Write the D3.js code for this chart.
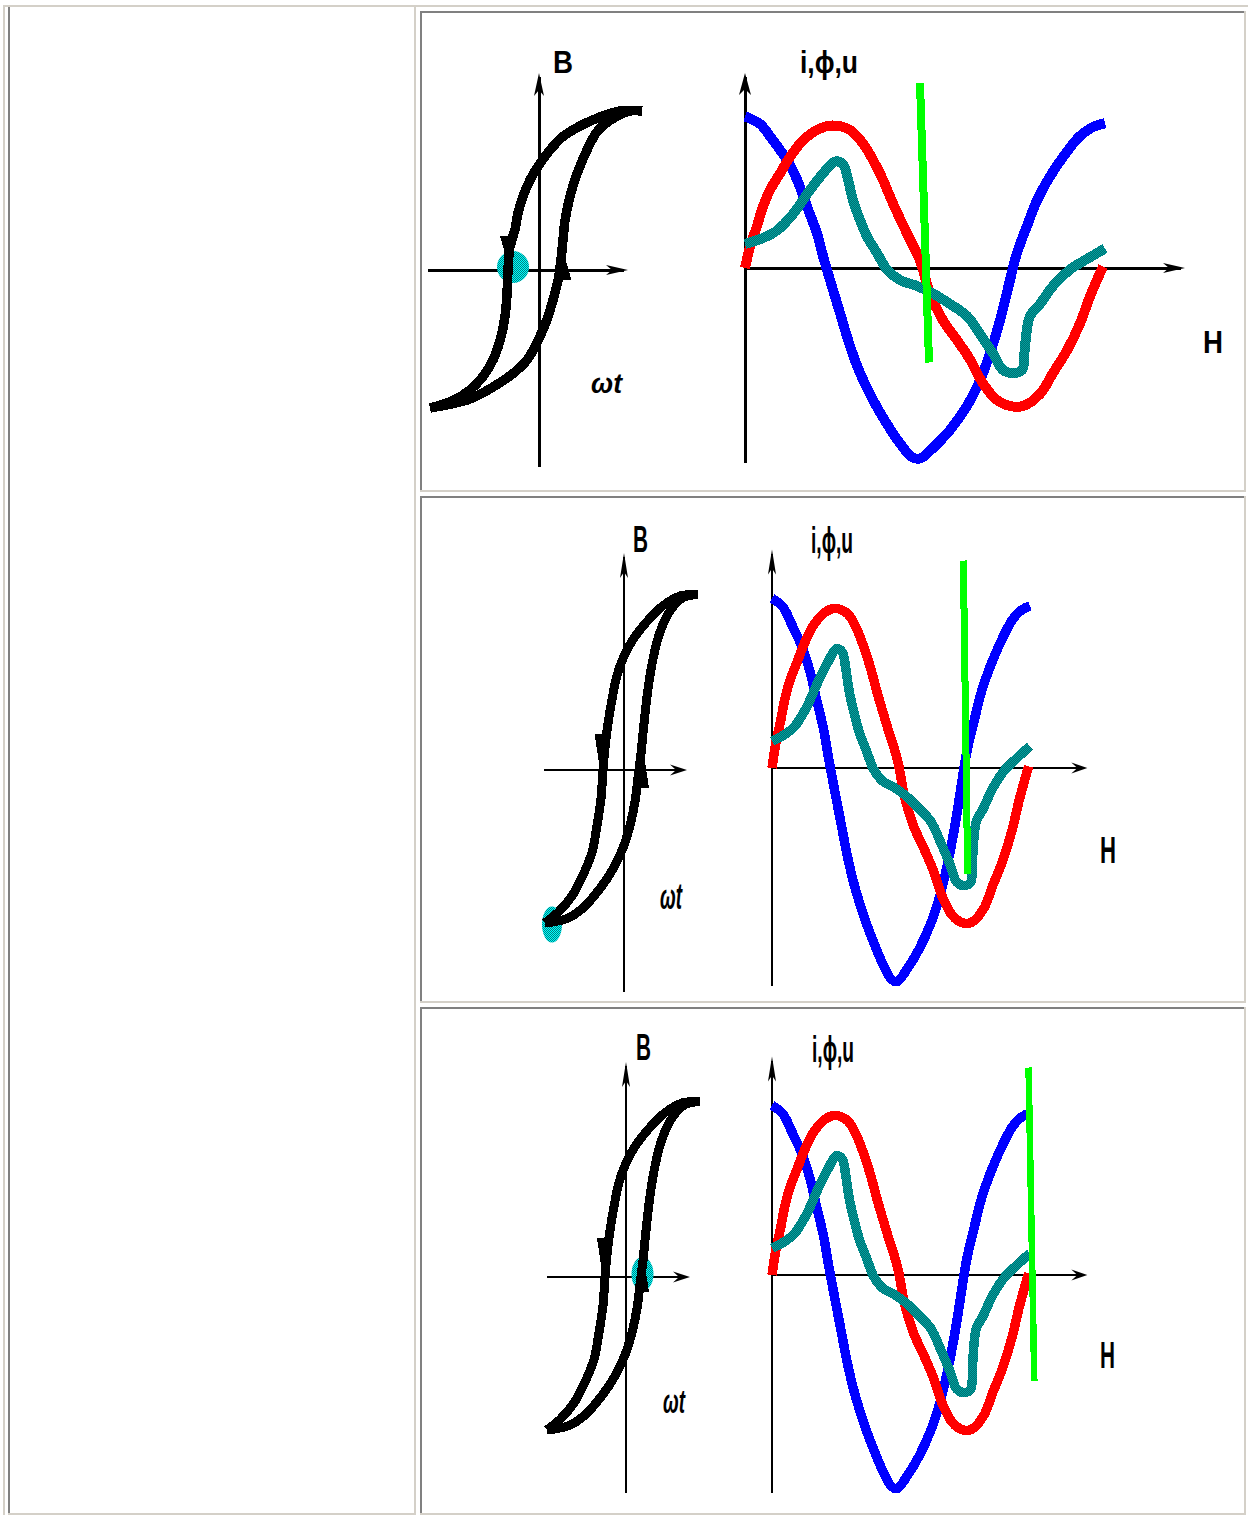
<!DOCTYPE html>
<html>
<head>
<meta charset="utf-8">
<title>Iron core magnetization: B–H loop and i, ϕ, u over one period</title>
<script src="https://cdn.jsdelivr.net/npm/d3@7/dist/d3.min.js"></script>
<style>
  html, body { margin: 0; padding: 0; background: #ffffff; }
  svg { display: block; }
  text { font-family: "Liberation Sans", Arial, "DejaVu Sans", sans-serif; fill: #000; }
</style>
</head>
<body>
<svg id="chart" width="1248" height="1515"></svg>
<script>
// ---------- waveforms over one period (phase ωt in degrees, amplitude in p.u.) ----------
const voltageT = [0, 15, 28, 42, 52, 62, 72, 78, 85, 95, 105, 115, 128, 142, 155, 167, 175, 188, 205, 222, 235, 245, 255, 265, 272, 282, 292, 305, 318, 335, 348, 360];
const voltageV = [1.01, 0.96, 0.85, 0.72, 0.59, 0.41, 0.23, 0.08, -0.08, -0.30, -0.52, -0.70, -0.88, -1.04, -1.17, -1.26, -1.27, -1.20, -1.08, -0.92, -0.75, -0.57, -0.35, -0.08, 0.10, 0.28, 0.45, 0.61, 0.74, 0.88, 0.94, 0.965];

const fluxT = [0, 5, 12, 18, 25, 35, 45, 58, 75, 88, 105, 118, 135, 148, 162, 175, 185, 198, 212, 225, 238, 252, 265, 278, 295, 308, 322, 335, 345, 358];
const fluxV = [0, 0.14, 0.28, 0.41, 0.52, 0.63, 0.74, 0.85, 0.93, 0.95, 0.92, 0.83, 0.63, 0.43, 0.23, 0.05, -0.17, -0.35, -0.48, -0.61, -0.77, -0.88, -0.92, -0.92, -0.84, -0.70, -0.55, -0.37, -0.19, 0.01];

const currentT = [0, 18, 32, 48, 65, 78, 90, 98, 103, 108, 115, 122, 132, 142, 155, 172, 188, 205, 222, 235, 248, 258, 268, 277, 280, 285, 295, 308, 325, 342, 360];
const currentV = [0.16, 0.20, 0.25, 0.36, 0.52, 0.63, 0.71, 0.69, 0.59, 0.45, 0.32, 0.21, 0.10, -0.01, -0.08, -0.12, -0.17, -0.24, -0.32, -0.44, -0.57, -0.68, -0.70, -0.68, -0.52, -0.32, -0.24, -0.12, -0.01, 0.06, 0.13];

// instant shown in each snapshot (slanted cursor: phase at its top and bottom end)
const cursorStart = [175, 267, 358];
const cursorEnd = [184, 273, 366];
const cursorTop = 1.235, cursorBottom = -0.63;

// ---------- hysteresis loops (H, B in p.u.) ----------
// wide loop: descending branch from +Bmax tip, ascending branch from -Bmax tip
const wideDownH = [1.03, 0.81, 0.61, 0.41, 0.24, 0.11, 0.01, -0.09, -0.16, -0.21, -0.24, -0.29, -0.31, -0.32, -0.34, -0.39, -0.46, -0.56, -0.69, -0.86, -1.09];
const wideDownB = [1.06, 1.06, 1.02, 0.96, 0.89, 0.80, 0.71, 0.60, 0.49, 0.38, 0.27, 0.16, 0.00, -0.16, -0.31, -0.47, -0.60, -0.71, -0.80, -0.87, -0.92];
const wideUpH = [-1.09, -0.69, -0.46, -0.26, -0.12, -0.01, 0.08, 0.14, 0.19, 0.22, 0.24, 0.26, 0.31, 0.38, 0.48, 0.59, 0.74, 0.91, 1.03];
const wideUpB = [-0.92, -0.86, -0.78, -0.69, -0.60, -0.47, -0.33, -0.20, -0.07, 0.07, 0.20, 0.33, 0.49, 0.64, 0.80, 0.93, 1.01, 1.06, 1.06];

// narrow loop
const narrowDownH = [0.74, 0.56, 0.38, 0.23, 0.09, 0.00, -0.07, -0.12, -0.16, -0.19, -0.21, -0.23, -0.27, -0.32, -0.41, -0.52, -0.66, -0.79];
const narrowDownB = [1.17, 1.16, 1.09, 0.99, 0.87, 0.76, 0.63, 0.47, 0.31, 0.15, 0.00, -0.19, -0.37, -0.55, -0.70, -0.84, -0.95, -1.02];
const narrowUpH = [-0.79, -0.57, -0.41, -0.24, -0.11, -0.01, 0.06, 0.11, 0.14, 0.17, 0.20, 0.24, 0.29, 0.36, 0.46, 0.59, 0.74];
const narrowUpB = [-1.02, -0.99, -0.92, -0.79, -0.66, -0.52, -0.37, -0.21, -0.05, 0.11, 0.31, 0.54, 0.74, 0.92, 1.06, 1.15, 1.17];

// operating point on the loop at the shown instant
const stateH = [-0.26, -0.72, 0.165];
const stateB = [0.02, -1.03, 0.02];

// axis titles
const loopTitles = ["B", "ωt"];
const waveTitles = ["i,ϕ,u", "H"];

// ---------- layout of the three snapshots ----------
const panels = [
  {
    top: 11, bottom: 492,
    loop: { cx: 539, cy: 270, h: [-1.11, 0.89], b: [-1.313, 1.313], down: [wideDownH, wideDownB], up: [wideUpH, wideUpB],
            stroke: 9.5, axis: 3, arrV: [23, 5], arrH: [22, 5],
            marks: [[-0.30, 0.16, 1], [0.235, 0.0, -1]], markSize: [18, 20], dot: [16, 16] },
    wave: { x: [745, 1105], y0: 268, unit: 150, stroke: 10, axis: 3, arrV: [22, 6], arrH: [22, 5], cursorW: 8 },
    text: { size: 32, wtSize: 28, B: [553, 73, 20], wt: [591, 393, 31], ipu: [800, 73, 58], H: [1203, 353, 20] }
  },
  {
    top: 496, bottom: 1003,
    loop: { cx: 624, cy: 770, h: [-0.80, 0.63], b: [-1.48, 1.447], down: [narrowDownH, narrowDownB], up: [narrowUpH, narrowUpB],
            stroke: 9, axis: 2, arrV: [25, 4], arrH: [17, 5.5],
            marks: [[-0.225, 0.143, 1], [0.18, -0.02, -1]], markSize: [14, 30], dot: [10, 18] },
    wave: { x: [772, 1030], y0: 768, unit: 168, stroke: 9.5, axis: 2, arrV: [25, 4], arrH: [16, 5.5], cursorW: 7 },
    text: { size: 36, wtSize: 36, B: [633, 552, 15], wt: [660, 909, 22], ipu: [811, 553, 42], H: [1100, 863, 16] }
  },
  {
    top: 1007, bottom: 1515,
    loop: { cx: 626, cy: 1277, h: [-0.79, 0.64], b: [-1.44, 1.433], down: [narrowDownH, narrowDownB], up: [narrowUpH, narrowUpB],
            stroke: 9, axis: 2, arrV: [25, 4], arrH: [17, 5.5],
            marks: [[-0.22, 0.157, 1], [0.16, 0.0, -1]], markSize: [14, 30], dot: [11, 17] },
    wave: { x: [772, 1030], y0: 1275, unit: 168, stroke: 9.5, axis: 2, arrV: [25, 4], arrH: [16, 5.5], cursorW: 6.5 },
    text: { size: 36, wtSize: 34, B: [636, 1060, 15], wt: [663, 1413, 22], ipu: [812, 1062, 42], H: [1100, 1368, 15] }
  }
];

const svg = d3.select("#chart");
svg.append("rect").attr("width", 1248).attr("height", 1515).attr("fill", "#ffffff");
const defs = svg.append("defs");

// 2x2 dither patterns
function checker(id, a, b) {
  const p = defs.append("pattern").attr("id", id).attr("width", 2).attr("height", 2)
    .attr("patternUnits", "userSpaceOnUse");
  p.append("rect").attr("width", 2).attr("height", 2).attr("fill", a);
  p.append("rect").attr("width", 1).attr("height", 1).attr("fill", b);
  p.append("rect").attr("x", 1).attr("y", 1).attr("width", 1).attr("height", 1).attr("fill", b);
}
checker("tealDither", "#007070", "#00a0a0");
checker("cyanDither", "#00ffff", "#008080");

// ---------- table frame ----------
const light = "#d4d0c8", dark = "#808080";
const frame = svg.append("g").attr("shape-rendering", "crispEdges");
function bar(x, y, w, h, c) {
  frame.append("rect").attr("x", x).attr("y", y).attr("width", w).attr("height", h).attr("fill", c);
}
bar(3, 5, 1245, 2, light);
bar(3, 5, 2, 1510, light);
bar(8, 7, 2, 1506, dark);
bar(414, 7, 2, 1508, light);
bar(8, 1513, 408, 2, light);
panels.forEach(p => {
  bar(420, p.top, 826, 2, dark);
  bar(420, p.top, 2, p.bottom - p.top, dark);
  bar(1244, p.top, 2, p.bottom - p.top, light);
  bar(420, p.bottom - 2, 826, 2, light);
});

// arrowhead polygon: tip at (x, y), pointing along (dx, dy)
function arrowHead(g, x, y, dx, dy, len, half) {
  const nx = -dy, ny = dx;
  const bx = x - dx * len, by = y - dy * len;
  const mx = x - dx * (len - 6), my = y - dy * (len - 6);
  g.append("path")
    .attr("d", `M${x},${y}L${bx + nx * half},${by + ny * half}L${mx},${my}L${bx - nx * half},${by - ny * half}Z`)
    .attr("fill", "#000");
}

function label(g, txt, pos, size, italic) {
  g.append("text")
    .attr("x", pos[0]).attr("y", pos[1])
    .attr("font-size", size)
    .attr("font-weight", "bold")
    .attr("font-style", italic ? "italic" : "normal")
    .attr("textLength", pos[2])
    .attr("lengthAdjust", "spacingAndGlyphs")
    .text(txt);
}

const smooth = d3.curveCatmullRom.alpha(0.5);

panels.forEach((p, i) => {
  const g = svg.append("g");

  // ---------- hysteresis loop ----------
  const L = p.loop;
  const hx = d3.scaleLinear().domain([-1, 1]).range([L.cx - 100, L.cx + 100]);
  const by = d3.scaleLinear().domain([-1, 1]).range([L.cy + 150, L.cy - 150]);
  const axes = g.append("g").attr("stroke", "#000").attr("stroke-width", L.axis).attr("shape-rendering", "crispEdges");
  axes.append("line").attr("x1", hx(0)).attr("x2", hx(0)).attr("y1", by(L.b[1]) + 4).attr("y2", by(L.b[0]));
  axes.append("line").attr("x1", hx(L.h[0])).attr("x2", hx(L.h[1]) - 4).attr("y1", by(0)).attr("y2", by(0));
  arrowHead(g, hx(0), by(L.b[1]), 0, -1, L.arrV[0], L.arrV[1]);
  arrowHead(g, hx(L.h[1]), by(0), 1, 0, L.arrH[0], L.arrH[1]);

  // operating point
  g.append("ellipse")
    .attr("cx", hx(stateH[i])).attr("cy", by(stateB[i]))
    .attr("rx", L.dot[0]).attr("ry", L.dot[1])
    .attr("fill", "url(#cyanDither)");

  const loopLine = d3.line().x(d => hx(d[0])).y(d => by(d[1])).curve(smooth);
  [L.down, L.up].forEach(br => {
    g.append("path")
      .attr("d", loopLine(d3.zip(br[0], br[1])))
      .attr("fill", "none").attr("stroke", "#000").attr("stroke-width", L.stroke)
      .attr("stroke-linecap", "butt").attr("shape-rendering", "crispEdges");
  });
  // direction marks on the branches
  L.marks.forEach(m => {
    const x = hx(m[0]), y = by(m[1]);
    const w = L.markSize[0] / 2, l = L.markSize[1] / 2, s = m[2];
    g.append("path")
      .attr("d", `M${x - w},${y - s * l}L${x + w},${y - s * l}L${x + w * 0.35},${y + s * l}L${x - w * 0.35},${y + s * l}Z`)
      .attr("fill", "#000").attr("shape-rendering", "crispEdges");
  });

  // ---------- waveforms ----------
  const W = p.wave;
  const tx = d3.scaleLinear().domain([0, 360]).range(W.x);
  const vy = d3.scaleLinear().domain([-1, 1]).range([W.y0 + W.unit, W.y0 - W.unit]);
  const wa = g.append("g").attr("stroke", "#000").attr("stroke-width", W.axis).attr("shape-rendering", "crispEdges");
  wa.append("line").attr("x1", tx(0)).attr("x2", tx(0)).attr("y1", vy(1.3) + 4).attr("y2", vy(-1.3));
  wa.append("line").attr("x1", tx(0)).attr("x2", tx(440) - 4).attr("y1", vy(0)).attr("y2", vy(0));
  arrowHead(g, tx(0), vy(1.3), 0, -1, W.arrV[0], W.arrV[1]);
  arrowHead(g, tx(440), vy(0), 1, 0, W.arrH[0], W.arrH[1]);

  const waveLine = d3.line().x(d => tx(d[0])).y(d => vy(d[1])).curve(smooth);
  const series = [
    { t: voltageT, v: voltageV, color: "#0000ff" },
    { t: fluxT, v: fluxV, color: "#ff0000" },
    { t: currentT, v: currentV, color: "url(#tealDither)" }
  ];
  series.forEach(s => {
    g.append("path")
      .attr("d", waveLine(d3.zip(s.t, s.v)))
      .attr("fill", "none").attr("stroke", s.color).attr("stroke-width", W.stroke)
      .attr("stroke-linecap", "butt").attr("stroke-linejoin", "round")
      .attr("shape-rendering", "crispEdges");
  });

  // time cursor
  g.append("line")
    .attr("x1", tx(cursorStart[i])).attr("y1", vy(cursorTop))
    .attr("x2", tx(cursorEnd[i])).attr("y2", vy(cursorBottom))
    .attr("stroke", "#00ff00").attr("stroke-width", W.cursorW)
    .attr("shape-rendering", "crispEdges");

  // ---------- titles ----------
  const T = p.text;
  label(g, loopTitles[0], T.B, T.size, false);
  label(g, loopTitles[1], T.wt, T.wtSize, true);
  label(g, waveTitles[0], T.ipu, T.size, false);
  label(g, waveTitles[1], T.H, T.size, false);
});
</script>
</body>
</html>
